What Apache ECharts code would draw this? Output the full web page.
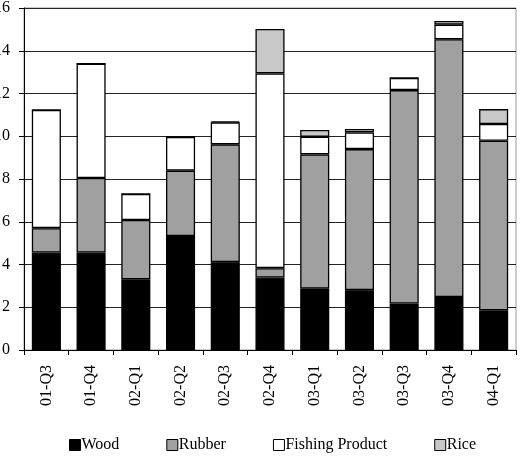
<!DOCTYPE html>
<html><head><meta charset="utf-8">
<script src="https://cdn.jsdelivr.net/npm/echarts@6/dist/echarts.min.js"></script>
<style>html,body{margin:0;padding:0;background:#fff}#c{width:521px;height:457px}</style>
</head><body><div id="c"></div>
<script>
const categories = ['01-Q3','01-Q4','02-Q1','02-Q2','02-Q3','02-Q4','03-Q1','03-Q2','03-Q3','03-Q4','04-Q1'];
const wood    = [4.56, 4.56, 3.31, 5.33, 4.11, 3.39, 2.87, 2.80, 2.17, 2.48, 1.86];
const rubber  = [1.14, 3.49, 2.77, 3.06, 5.51, 0.44, 6.28, 6.60, 9.99, 12.06, 7.93];
const fishing = [5.53, 5.35, 1.22, 1.58, 1.03, 9.11, 0.83, 0.78, 0.57, 0.68, 0.78];
const rice    = [0, 0, 0, 0, 0.05, 2.08, 0.31, 0.16, 0, 0.17, 0.70];
const yTicks  = [0, 2, 4, 6, 8, 10, 12, 14, 16];

const font = 'Liberation Serif, Times New Roman, serif';
const chart = echarts.init(document.getElementById('c'));
function s(name, data, color) {
  return {
    name, type: 'bar', stack: 'total', data,
    barCategoryGap: '35%',
    itemStyle: { color, borderColor: '#000', borderWidth: 1.3 },
    emphasis: { disabled: true }
  };
}
chart.setOption({
  animation: false,
  textStyle: { fontFamily: font },
  grid: { left: 24, top: 8, right: 5, bottom: 107, show: true, borderColor: '#999', borderWidth: 1,
          containLabel: false, outerBoundsMode: 'none' },
  xAxis: {
    type: 'category', data: categories,
    axisLine: { lineStyle: { color: '#000', width: 1 } },
    axisTick: { show: true, length: 5, alignWithLabel: false, lineStyle: { color: '#000' } },
    axisLabel: { rotate: 90, margin: 15, color: '#000', fontFamily: font, fontSize: 16, interval: 0 }
  },
  yAxis: {
    type: 'value', min: yTicks[0], max: yTicks[yTicks.length - 1], interval: 2,
    axisLine: { show: true, lineStyle: { color: '#000', width: 1 } },
    axisTick: { show: true, length: 5, lineStyle: { color: '#000' } },
    splitLine: { show: true, lineStyle: { color: '#222', width: 1 } },
    axisLabel: { margin: 14, color: '#000', fontFamily: font, fontSize: 16 }
  },
  legend: {
    top: 432, left: 64, itemWidth: 11, itemHeight: 11, itemGap: 47,
    icon: 'rect',
    textStyle: { fontFamily: font, fontSize: 16, color: '#000', padding: [0, 0, 0, -4] },
    itemStyle: { borderColor: '#000', borderWidth: 1 },
    data: ['Wood', 'Rubber', 'Fishing Product', 'Rice']
  },
  series: [
    s('Wood', wood, '#000000'),
    s('Rubber', rubber, '#a0a0a0'),
    s('Fishing Product', fishing, '#ffffff'),
    s('Rice', rice, '#c8c8c8')
  ]
});
</script></body></html>
